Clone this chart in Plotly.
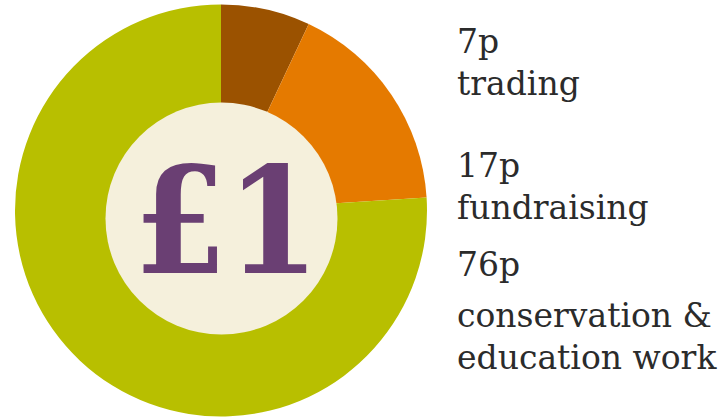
import plotly.graph_objects as go

# Where each pound goes (pence)
categories = ["trading", "fundraising", "conservation &\neducation work"]
pence = [7, 17, 76]
slice_colors = ["#9B5200", "#E57A00", "#B8BF00"]

W, H = 726, 419

# ring geometry in pixels
cx, cy, r_out = 221, 210.5, 206
# cream centre disc sits a little low
dcx, dcy, r_in = 221.5, 218.5, 116

def px_x(x):
    return x / W

def px_y(y):
    return 1 - y / H

fig = go.Figure(
    go.Pie(
        labels=[c.replace("\n", " ") for c in categories],
        values=pence,
        marker=dict(colors=slice_colors, line=dict(width=0)),
        sort=False,
        direction="clockwise",
        rotation=0,
        textinfo="none",
        hoverinfo="skip",
        showlegend=False,
        domain=dict(x=[px_x(cx - r_out), px_x(cx + r_out)],
                    y=[px_y(cy + r_out), px_y(cy - r_out)]),
    )
)

fig.add_shape(
    type="circle", xref="paper", yref="paper", layer="above",
    x0=px_x(dcx - r_in), x1=px_x(dcx + r_in),
    y0=px_y(dcy + r_in), y1=px_y(dcy - r_in),
    fillcolor="#F5F0DC", line=dict(width=0),
)

fig.add_annotation(
    text="£1", xref="paper", yref="paper",
    x=px_x(226), y=px_y(221), xanchor="center", yanchor="middle",
    showarrow=False,
    font=dict(family="DejaVu Serif Condensed", size=148, color="#6A3F73", weight="bold"),
)

# side labels: value line then name lines, each at its baseline
label_size = 33
baselines = [[52, 94], [176, 218], [275, 326, 368]]
text_x = 455
for v, name, bls in zip(pence, categories, baselines):
    lines = [f"{v}p"] + name.split("\n")
    for line, bl in zip(lines, bls):
        fig.add_annotation(
            text=line, xref="paper", yref="paper",
            x=px_x(text_x), y=px_y(bl - 0.32 * label_size),
            xanchor="left", yanchor="middle", showarrow=False,
            font=dict(family="DejaVu Serif", size=label_size, color="#2B2B2B"),
        )

fig.update_layout(
    width=W, height=H,
    margin=dict(l=0, r=0, t=0, b=0),
    paper_bgcolor="white", plot_bgcolor="white",
)

fig.write_html("out.html")
